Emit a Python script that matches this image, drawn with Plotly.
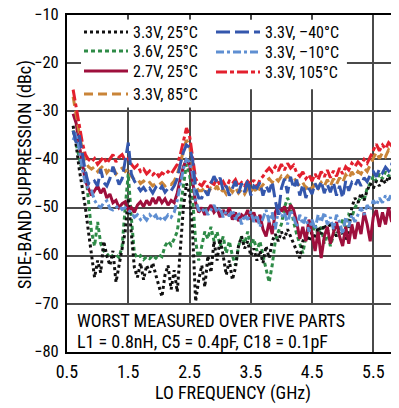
import plotly.graph_objects as go

# sweep: 0.60 GHz to 5.95 GHz in 0.05 GHz steps
F_START = 0.6
F_STEP = 0.05

v33_25 = [-33, -37, -42, -46, -50, -55,
          -60, -64.5, -61, -63.5, -57, -60, -62, -59, -65.5, -62, -58, -55, -48, -56, -62.5,
          -64.5, -61.5, -65, -62, -63.5, -61.5, -64, -66.5, -68.5, -64, -62, -67, -63, -67.5, -58,
          -50, -45, -47, -55, -69.5, -65,
          -62, -66.5, -60, -63.5, -57, -61, -56.5, -60, -64, -61,
          -65, -62.5, -58, -56, -58.5, -57, -60, -58.5, -61, -59,
          -61.5, -58, -60.5, -57, -55.5, -57, -55, -56.5, -54.5, -56,
          -57.5, -59, -60.5, -57, -55.5, -57, -55, -56.5, -54, -55.5,
          -53.5, -55, -53, -54.5, -56, -54, -55.5, -57, -54.5, -50,
          -48,
          -49, -47, -48.5, -46.5, -45, -46, -44.5, -45.5, -44, -45, -43.5, -44.5, -43, -44, -42.8]

v36_25 = [-34, -37, -40, -42.5, -42, -48,
          -55, -58, -53, -57.5, -59, -60, -59.5, -60.2, -59.8, -60.4, -58, -50, -43, -52, -59.5,
          -60.5, -60, -60.8, -60.2, -60.6, -60, -60.5, -59.8, -60.2, -58, -57, -57.8, -56.5, -55, -50,
          -45, -41, -43, -48, -57, -61,
          -58, -55, -56.5, -54, -57, -55, -58, -56, -59.5, -57,
          -60, -62, -58, -56, -57.5, -55, -58, -56.5, -59, -57,
          -60, -63, -65.5, -62, -57, -55, -53.5, -50, -48, -49.5,
          -53, -55.5, -57.5, -59.5, -56, -54, -55.5, -53.5, -56, -54,
          -57.5, -55, -58, -56, -53.5, -55, -52.5, -54.5, -51.5, -52,
          -50,
          -49, -47.5, -48.5, -46, -45, -43.5, -44.5, -43, -44, -42.5, -43.5, -42.2, -43, -42, -42.5]

v27_25 = [-30.5, -32.5, -37, -41, -44.5, -46,
          -47.5, -46.5, -45.5, -47, -46, -48, -47.2, -49, -48.5, -50, -49.2, -48.8, -50.5, -50, -51,
          -49.5, -48.8, -49.8, -48.5, -49.5, -48, -49.2, -47.8, -49, -48.2, -49.5, -48.5, -49, -47, -44,
          -41.5, -40, -41, -44.5, -49, -51,
          -50, -51.5, -50.5, -49.5, -51, -50.2, -52, -50.5, -51.5, -50,
          -52.5, -51, -52.8, -51.5, -52, -50.5, -52.5, -51, -53, -51.5,
          -54.5, -56, -53, -55.5, -51, -49.5, -50.8, -49.8, -51.5, -49.5,
          -50.5, -53, -56.5, -54, -57, -52.5, -55.5, -59, -55, -60.5,
          -56, -54, -57.5, -55, -53, -56, -58, -54, -57.5, -53.5,
          -56.5,
          -53, -55.5, -51, -53.5, -57, -52, -50.5, -54, -51, -53.5, -50, -53, -50.5, -52.5, -50]

v33_85 = [-27, -31, -34.5, -38, -40.5, -41.5,
          -42, -41.5, -42.5, -41.8, -41.2, -42.8, -42, -41.5, -43, -42.2, -41.8, -42.5, -42, -43.5, -44.2,
          -44, -45, -44.5, -45.2, -44.8, -45.5, -45, -45.3, -44.8, -45.5, -45, -45.2, -44.5, -43, -41,
          -38, -36, -37, -41.5, -45.5, -46.5,
          -46.5, -45.8, -47, -46, -46.5, -45.5, -47, -46.2, -47.2, -46,
          -46.8, -45.8, -47, -46.2, -47.2, -46, -46.8, -45.8, -47, -46,
          -45.2, -44.5, -44, -44.8, -43.8, -44.5, -43.5, -44.2, -43.4, -44,
          -43.6, -44.8, -45.5, -44.8, -46, -45.2, -46.2, -45, -46, -44.8,
          -45.6, -44.2, -45.5, -44, -45.2, -43.8, -44.8, -43.2, -44, -42.6,
          -43.5,
          -42.5, -43, -41.8, -42.5, -41, -39.8, -38.5, -39.8, -38.6, -39.4, -38, -38.8, -37.5, -38.2, -37.2]

v33_m40 = [-34, -36.5, -35, -39, -42.5, -45,
           -45.2, -44.5, -45.5, -42, -44.8, -45.5, -44, -41.5, -43.5, -45.2, -44, -40, -36.5, -43, -44.5,
           -45.5, -46.5, -45.8, -46.8, -46, -47, -45.8, -46.5, -45.6, -46.8, -46, -46.5, -45.5, -44, -41,
           -38.5, -37, -37.5, -40, -46, -48,
           -48, -46.5, -47.5, -45, -43.5, -44.8, -43.8, -46.5, -45.5, -47.5,
           -46, -44.5, -47, -45, -46.8, -44.2, -47.5, -45.5, -46, -44.8,
           -47.5, -45.5, -46.8, -44.6, -48.5, -51.5, -46, -44, -47, -43.6,
           -46, -44.2, -47.5, -45.2, -48, -46, -47.2, -45, -46.2, -44.5,
           -47, -45.2, -46.8, -44.8, -47.5, -45.5, -48, -44.5, -46.5, -44.8,
           -45.5,
           -44.2, -45.5, -43.8, -44.6, -43.2, -42.5, -43.6, -42, -42.8, -41.6, -42.4, -41, -41.8, -40.8, -41.2]

v33_m10 = [-36, -34.5, -38, -42, -45, -46,
           -46.5, -48.5, -49.5, -50, -49, -48.6, -50.2, -50.5, -50, -49.6, -50.4, -50, -50.6, -51, -52,
           -51.5, -52.5, -51.8, -52.6, -51.5, -52.2, -51.6, -52.8, -51.8, -52.4, -51.5, -52, -51, -48.5, -45,
           -42, -40, -40.5, -43, -48.5, -50.5,
           -51, -50, -51.5, -50.5, -49.5, -51, -50, -52, -50.8, -51.8,
           -50.5, -52.5, -51, -53.5, -51.5, -52.5, -50.8, -53, -51.5, -54,
           -52, -50.5, -53, -51, -54.5, -50.5, -52, -51, -53.5, -50.5,
           -52, -54, -51.5, -53.5, -52, -55, -52.5, -54.5, -51.5, -53,
           -51, -53.5, -52, -54.5, -51.5, -53, -55.5, -52, -54, -51.5,
           -53,
           -51.5, -50, -51.5, -49.5, -50.5, -48.5, -49.5, -48, -49, -47.5, -48.5, -47, -48, -46.8, -47.5]

v33_105 = [-25.5, -29, -33, -36.5, -39, -40,
           -40.5, -39.8, -41, -40.2, -39.5, -40.8, -40, -39, -40.5, -39.5, -39, -40.2, -39.8, -41, -41.8,
           -41.2, -42.5, -42, -43, -42.4, -43.2, -42.6, -43.5, -42.8, -43.2, -42.5, -43, -42, -41, -39,
           -36, -33.5, -35, -40, -44, -45,
           -45.5, -44.5, -45.8, -44.8, -45.2, -44, -45.5, -44.6, -45.8, -44.5,
           -45, -44.2, -45.6, -44.8, -45.5, -44.5, -45.2, -44.3, -45.8, -44.2,
           -43.5, -42.5, -41.8, -42.6, -41.5, -42.4, -41, -42.2, -40.8, -41.8,
           -41.2, -42.8, -43.5, -42.6, -44, -43.2, -44.5, -43, -44.2, -42.5,
           -43.6, -42.2, -43.8, -42.4, -43.5, -41.8, -43, -41.5, -42.2, -40.8,
           -41.5,
           -40.5, -41.2, -40, -40.8, -39.5, -38, -36.8, -38.2, -37, -37.8, -36.5, -37.2, -36, -36.8, -35.8]

FONT = "Liberation Sans Narrow, Arial Narrow, Roboto Condensed, DejaVu Sans Condensed, sans-serif"

# the page body has an 8px margin, so the figure is 8px smaller and shifted
OFF = 8
W, H = 399 - OFF, 408 - OFF
# plot area in page pixels
L, T, R, B = 67, 15, 399, 352

def px_x(p):
    return (p - L) / (R - L)

def px_y(p):
    return 1 - (p - T) / (B - T)

# name, values, colour, dash, legend slot, (legend left px, row centre px)
# drawing order = list order
series = [
    ("3.6V, 25°C", v36_25, "#2e8b47", "4px,3px", "legend2", (79, 51)),
    ("3.3V, 25°C", v33_25, "#111111", "3px,3px", "legend", (79, 32)),
    ("2.7V, 25°C", v27_25, "#9e0f3c", "solid", "legend3", (79, 71)),
    ("3.3V, 85°C", v33_85, "#c98438", "9px,5px", "legend4", (79, 94)),
    ("3.3V, 105°C", v33_105, "#e3202e", "11px,3px,4px,3px", "legend7", (211, 72)),
    ("3.3V, –10°C", v33_m10, "#5f8fd2", "8px,3px,3px,3px", "legend6", (211, 52)),
    ("3.3V, –40°C", v33_m40, "#3457ad", "14px,5px", "legend5", (211, 32)),
]

fig = go.Figure()
legends = {}
for name, vals, col, dash, leg, (lx, ly) in series:
    fig.add_trace(go.Scatter(y=vals, x0=F_START, dx=F_STEP, mode="lines", name=name,
                             line=dict(color=col, width=3, dash=dash), legend=leg,
                             showlegend=True))
    legends[leg] = dict(x=px_x(lx), y=px_y(ly), xanchor="left", yanchor="middle",
                        bgcolor="rgba(0,0,0,0)", itemwidth=44, visible=True,
                        font=dict(size=16, color="black", family=FONT))

# white boxes hiding the grid under the legend and the note
fig.add_shape(type="rect", xref="x", yref="y", x0=0.73, x1=5.07, y0=-25.4, y1=-11.0,
              fillcolor="white", line_width=0, layer="between")
fig.add_shape(type="rect", xref="x", yref="y", x0=0.73, x1=2.75, y0=-29.2, y1=-11.0,
              fillcolor="white", line_width=0, layer="between")
fig.add_shape(type="rect", xref="x", yref="y", x0=0.5, x1=5.47, y0=-80, y1=-70.25,
              fillcolor="white", line_width=0, layer="between")

fig.add_annotation(x=0.63, y=-73.4, xref="x", yref="y", xanchor="left", yanchor="middle",
                   text="WORST MEASURED OVER FIVE PARTS", showarrow=False,
                   font=dict(size=18, color="black", family=FONT))
fig.add_annotation(x=0.63, y=-77.9, xref="x", yref="y", xanchor="left", yanchor="middle",
                   text="L1 = 0.8nH, C5 = 0.4pF, C18 = 0.1pF", showarrow=False,
                   font=dict(size=18, color="black", family=FONT))
# y axis title placed by hand
fig.add_annotation(x=px_x(25), y=px_y(175), xref="paper", yref="paper",
                   xanchor="center", yanchor="middle", textangle=-90,
                   text="SIDE-BAND SUPPRESSION (dBc)", showarrow=False,
                   font=dict(size=18, color="black", family=FONT))

fig.update_layout(
    width=W, height=H,
    margin=dict(l=L - OFF, r=0, t=T - OFF, b=408 - B),
    showlegend=True,
    plot_bgcolor="white", paper_bgcolor="white",
    font=dict(family=FONT, size=18, color="black"),
    **legends,
    xaxis=dict(range=[0.5, 5.92], tickvals=[0.5, 1.5, 2.5, 3.5, 4.5, 5.5],
               ticktext=["0.5", "1.5", "2.5", "3.5", "4.5", "5.5"],
               tickfont=dict(size=18),
               showgrid=True, gridcolor="#4a4a4a", gridwidth=1.5,
               showline=True, linecolor="black", linewidth=2, mirror=True,
               ticks="", ticklabelstandoff=2, ticklabeloverflow="allow",
               zeroline=False, automargin=False,
               title=dict(text="LO FREQUENCY (GHz)", standoff=6, font=dict(size=18))),
    yaxis=dict(range=[-80, -10], dtick=10, tick0=-80, tickfont=dict(size=16.5),
               showgrid=True, gridcolor="#4a4a4a", gridwidth=1.5,
               showline=True, linecolor="black", linewidth=2,
               ticks="", ticklabelstandoff=3, ticklabelshift=-1, ticklabeloverflow="allow",
               zeroline=False, automargin=False),
)

fig.write_html("out.html")
